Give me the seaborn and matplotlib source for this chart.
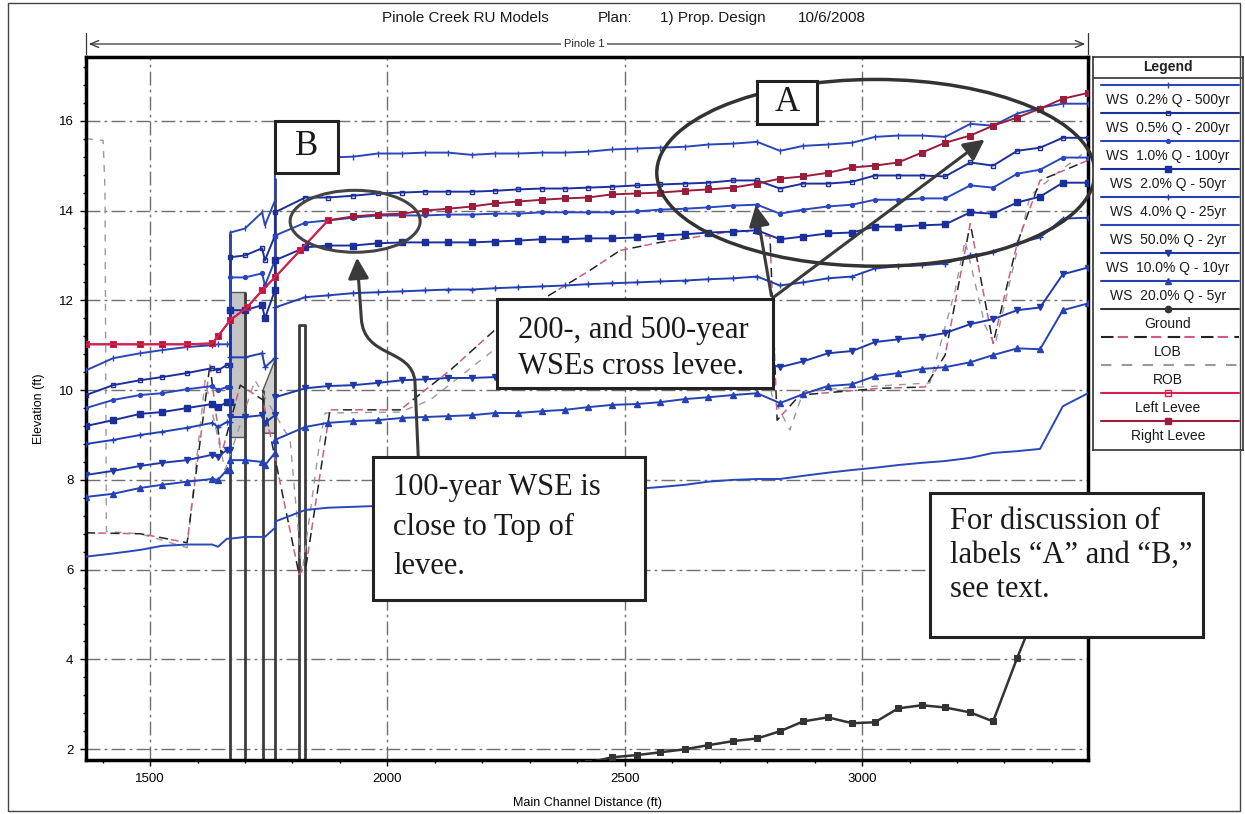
import pandas as pd
import matplotlib.pyplot as plt
from matplotlib.patches import Rectangle, Ellipse, FancyArrowPatch
from matplotlib.path import Path
from matplotlib.lines import Line2D
from matplotlib.ticker import MultipleLocator
import seaborn as sns

sns.set_theme(style="white")
plt.rcParams["font.family"] = ["Liberation Sans", "DejaVu Sans"]

# ---- data (main channel distance in ft, elevation in ft) ----
left_st = [1365, 1422, 1479, 1525, 1578, 1631, 1643, 1662]
bridge_st = [1669, 1669, 1700, 1736, 1742, 1763, 1763]
reach_st = [1827, 1875, 1928, 1980, 2031, 2079, 2128, 2178, 2227, 2275, 2326, 2374,
            2423, 2473, 2526, 2574, 2627, 2676, 2728, 2779, 2827, 2876, 2928, 2979,
            3027, 3076, 3126, 3175, 3228, 3276, 3327, 3375, 3423, 3476]
stations = left_st + bridge_st + reach_st

ws500 = [10.44, 10.71, 10.82, 10.89, 10.96, 11.0, 11.02, 11.02,
         11.02, 13.51, 13.6, 13.96, 13.67, 14.22, 15.11,
         15.16, 15.18, 15.2, 15.27, 15.27, 15.29, 15.29, 15.24, 15.27, 15.27, 15.29, 15.29,
         15.31, 15.36, 15.38, 15.4, 15.42, 15.47, 15.49, 15.53, 15.33, 15.44, 15.47, 15.51,
         15.64, 15.67, 15.67, 15.64, 15.93, 15.89, 16.16, 16.29, 16.38, 16.38]
ws200 = [9.89, 10.11, 10.22, 10.29, 10.38, 10.49, 10.44, 10.56,
         10.56, 12.96, 13.0, 13.16, 12.89, 13.44, 13.96,
         14.29, 14.29, 14.33, 14.38, 14.4, 14.42, 14.42, 14.42, 14.44, 14.47, 14.49, 14.49,
         14.51, 14.53, 14.56, 14.58, 14.6, 14.62, 14.67, 14.67, 14.49, 14.6, 14.6, 14.64,
         14.78, 14.78, 14.78, 14.76, 15.07, 15.0, 15.33, 15.4, 15.62, 15.62]
ws100 = [9.6, 9.78, 9.89, 9.93, 10.02, 10.09, 10.0, 10.07,
         10.07, 12.51, 12.51, 12.6, 12.33, 12.89, 13.44,
         13.73, 13.78, 13.84, 13.89, 13.89, 13.89, 13.91, 13.91, 13.93, 13.93, 13.96, 13.96,
         13.96, 13.96, 13.98, 14.02, 14.04, 14.07, 14.11, 14.13, 13.93, 14.02, 14.09, 14.13,
         14.24, 14.24, 14.27, 14.27, 14.56, 14.51, 14.82, 14.91, 15.18, 15.18]
ws50 = [9.2, 9.33, 9.47, 9.51, 9.6, 9.69, 9.62, 9.73,
        9.73, 11.78, 11.78, 11.89, 11.6, 12.22, 12.89,
        13.18, 13.22, 13.22, 13.27, 13.29, 13.29, 13.29, 13.29, 13.31, 13.33, 13.36, 13.36,
        13.38, 13.38, 13.4, 13.44, 13.47, 13.51, 13.53, 13.56, 13.36, 13.42, 13.49, 13.51,
        13.64, 13.64, 13.67, 13.69, 13.96, 13.93, 14.18, 14.31, 14.62, 14.62]
ws25 = [8.8, 8.89, 9.0, 9.07, 9.16, 9.27, 9.18, 9.29,
        9.29, 10.73, 10.73, 10.82, 10.51, 10.71, 11.84,
        12.07, 12.11, 12.16, 12.18, 12.2, 12.22, 12.24, 12.24, 12.27, 12.29, 12.31, 12.33,
        12.36, 12.38, 12.4, 12.42, 12.44, 12.47, 12.49, 12.53, 12.33, 12.4, 12.49, 12.53,
        12.71, 12.76, 12.78, 12.82, 13.0, 13.07, 13.27, 13.4, 13.82, 13.84]
ws10 = [8.11, 8.2, 8.31, 8.38, 8.44, 8.56, 8.51, 8.67,
        8.67, 9.4, 9.4, 9.44, 9.27, 9.44, 9.84,
        10.04, 10.09, 10.11, 10.16, 10.22, 10.24, 10.27, 10.27, 10.29, 10.31, 10.33, 10.36,
        10.38, 10.4, 10.42, 10.47, 10.51, 10.56, 10.62, 10.67, 10.51, 10.64, 10.82, 10.87,
        11.07, 11.13, 11.18, 11.27, 11.47, 11.58, 11.78, 11.84, 12.58, 12.73]
ws5 = [7.62, 7.69, 7.82, 7.89, 7.96, 8.02, 8.0, 8.22,
       8.22, 8.44, 8.44, 8.4, 8.33, 8.6, 8.89,
       9.18, 9.27, 9.31, 9.33, 9.38, 9.4, 9.42, 9.44, 9.49, 9.49, 9.53, 9.56,
       9.62, 9.67, 9.69, 9.73, 9.8, 9.84, 9.89, 9.93, 9.71, 9.91, 10.09, 10.13,
       10.31, 10.38, 10.47, 10.51, 10.62, 10.78, 10.93, 10.91, 11.78, 11.93]
ws2 = [6.29, 6.36, 6.44, 6.53, 6.56, 6.56, 6.51, 6.69,
       6.69, 6.69, 6.73, 6.73, 6.73, 6.93, 7.07,
       7.33, 7.38, 7.4, 7.42, 7.47, 7.51, 7.56, 7.6, 7.62, 7.67, 7.69, 7.71,
       7.73, 7.78, 7.8, 7.84, 7.89, 7.96, 8.0, 8.02, 8.02, 8.09, 8.16, 8.22,
       8.27, 8.33, 8.38, 8.42, 8.49, 8.6, 8.64, 8.69, 9.64, 9.93]

levee_st = [1365, 1422, 1479, 1525, 1578, 1631, 1643, 1669, 1704, 1736, 1763, 1816, 1875,
            1928, 1980, 2031, 2079, 2128, 2178, 2227, 2275, 2326, 2374, 2423, 2473, 2526,
            2574, 2627, 2676, 2728, 2779, 2827, 2876, 2928, 2979, 3027, 3076, 3126, 3175,
            3228, 3276, 3327, 3375, 3423, 3476]
right_levee = [11.02, 11.02, 11.02, 11.02, 11.02, 11.04, 11.2, 11.56, 11.84, 12.22, 12.51,
               13.11, 13.78, 13.87, 13.91, 13.93, 14.0, 14.04, 14.09, 14.16, 14.2, 14.24,
               14.27, 14.29, 14.36, 14.38, 14.4, 14.44, 14.47, 14.51, 14.6, 14.71, 14.76,
               14.84, 14.96, 15.0, 15.07, 15.29, 15.51, 15.67, 15.89, 16.07, 16.27, 16.49, 16.62]
left_levee_st = [1365, 1422, 1479, 1525, 1578, 1631, 1643, 1669, 1704, 1736, 1763, 1816, 1875]
left_levee = [11.02, 11.02, 11.02, 11.02, 11.02, 11.04, 11.2, 11.56, 11.84, 12.22, 12.51, 13.11, 13.78]

ground_st = [2423, 2473, 2526, 2574, 2627, 2676, 2728, 2779, 2827, 2876, 2928, 2979, 3027,
             3076, 3126, 3175, 3228, 3276, 3327, 3375, 3423, 3476]
ground = [1.7, 1.82, 1.87, 1.93, 2.0, 2.09, 2.18, 2.24, 2.4, 2.62, 2.71, 2.58, 2.6,
          2.91, 2.98, 2.93, 2.82, 2.62, 4.04, 5.3, 5.8, 6.0]

lob_st = [1365, 1479, 1525, 1578, 1626, 1650, 1690, 1738, 1814, 1829, 1879, 2027, 2132,
          2237, 2427, 2490, 2574, 2743, 2806, 2821, 2869, 3038, 3133, 3175, 3228, 3276,
          3327, 3375, 3474]
lob = [6.82, 6.8, 6.71, 6.6, 10.56, 8.56, 10.11, 9.78, 5.89, 6.11, 9.56, 9.56, 10.44,
       11.44, 12.67, 13.11, 13.29, 13.56, 13.42, 9.33, 9.89, 10.04, 10.07, 10.78, 13.71,
       11.04, 13.27, 14.67, 15.11]
rob_st = [1365, 1401, 1405, 1408, 1479, 1578, 1616, 1658, 1721, 1795, 1820, 1858, 1869,
          2027, 2090, 2237, 2364, 2532, 2659, 2785, 2810, 2848, 2876, 2954, 3143, 3196,
          3217, 3259, 3280, 3312, 3354, 3417, 3474]
rob = [15.6, 15.56, 14.5, 6.85, 6.8, 6.49, 10.22, 8.22, 10.22, 8.89, 5.93, 8.89, 9.49,
       9.51, 9.78, 11.0, 11.5, 11.6, 11.7, 11.4, 9.89, 9.11, 9.96, 10.04, 10.16, 12.22,
       13.33, 11.44, 11.0, 12.44, 14.33, 14.89, 15.33]

# bridge / culvert geometry
pier_x = [1669, 1700, 1738, 1763, 1814, 1826]
pier_top = [13.51, 12.18, 10.0, 14.73, 11.44, 11.44]
culvert_x = [1669, 1700]
culvert_low, culvert_high = 8.96, 12.18
pent_x = [1738, 1738, 1763, 1763]
pent_y = [9.04, 10.0, 10.67, 9.04]

# ---- figure ----
W, H = 1245, 814
fig = plt.figure(figsize=(W / 100, H / 100), dpi=100, facecolor="white")
ax = fig.add_axes([86 / W, 1 - 760 / H, 1002 / W, 703 / H])
ax.set_facecolor("white")

# bridge structure
ax.fill_between(culvert_x, culvert_low, culvert_high, color="#c4c4c4", ec="#555555", lw=1, zorder=2)
ax.fill(pent_x, pent_y, color="#cfcfcf", ec="#555555", lw=1, zorder=2)
ax.vlines(pier_x, 0, pier_top, color="#3c3c3c", lw=2, zorder=2)
ax.plot(pier_x[4:], pier_top[4:], color="#3c3c3c", lw=2, zorder=2)

# bank stations
sns.lineplot(x=rob_st, y=rob, ax=ax, sort=False, estimator=None, color="#9a9a9a",
             lw=1.0, linestyle=(0, (5, 5)), zorder=2)
sns.lineplot(x=lob_st, y=lob, ax=ax, sort=False, estimator=None, color="#222222",
             lw=1.1, linestyle=(0, (6, 10)), zorder=2)
sns.lineplot(x=lob_st, y=lob, ax=ax, sort=False, estimator=None, color="#cf5a86",
             lw=1.1, linestyle=(8, (5, 11)), zorder=2)

ws_specs = [
    ("WS  0.2% Q - 500yr", ws500, "#2a46b8", "|", "#2a46b8", 5),
    ("WS  0.5% Q - 200yr", ws200, "#1c2f9a", "s", "none", 3.5),
    ("WS  1.0% Q - 100yr", ws100, "#2b47c0", "o", "#2b47c0", 2.8),
    ("WS  2.0% Q - 50yr", ws50, "#1b2f9c", "s", "#1b2f9c", 4),
    ("WS  4.0% Q - 25yr", ws25, "#2340b0", "+", "#2340b0", 5),
    ("WS  50.0% Q - 2yr", ws2, "#2a48b8", "", "#2a48b8", 0),
    ("WS  10.0% Q - 10yr", ws10, "#1f3aa8", "v", "#1f3aa8", 4.5),
    ("WS  20.0% Q - 5yr", ws5, "#2542b4", "^", "#2542b4", 4.5),
]
for label, vals, col, mk, mfc, ms in ws_specs:
    df = pd.DataFrame({"Station": stations, "Elevation": vals})
    sns.lineplot(data=df, x="Station", y="Elevation", ax=ax, sort=False, estimator=None,
                 color=col, lw=1.4, marker=mk if mk else None, markersize=ms,
                 markerfacecolor=mfc, markeredgecolor=col, markeredgewidth=1.0, zorder=3)

sns.lineplot(x=ground_st, y=ground, ax=ax, sort=False, estimator=None, color="#333333",
             lw=1.8, marker="s", markersize=4.5, markeredgecolor="#333333", zorder=3)
sns.lineplot(x=levee_st, y=right_levee, ax=ax, sort=False, estimator=None, color="#9c1c3c",
             lw=1.4, marker="s", markersize=4, markeredgecolor="#9c1c3c", zorder=4)
sns.lineplot(x=left_levee_st, y=left_levee, ax=ax, sort=False, estimator=None, color="#d8204e",
             lw=1.4, marker="s", markersize=4, markerfacecolor="none",
             markeredgecolor="#d8204e", zorder=4)

# axes styling
ax.set_xlim(1365, 3476)
ax.set_ylim(1.76, 17.42)
ax.set_xticks([1500, 2000, 2500, 3000])
ax.set_yticks(range(2, 17, 2))
ax.xaxis.set_minor_locator(MultipleLocator(100))
ax.yaxis.set_minor_locator(MultipleLocator(0.4))
ax.grid(True, which="major", color="#707070", lw=1.0, linestyle=(0, (10, 3, 2, 3)), zorder=1)
ax.tick_params(which="both", bottom=True, left=True, direction="out", colors="black",
               labelsize=9.5, width=1)
ax.tick_params(which="major", length=4, pad=5)
ax.tick_params(which="minor", length=2.5)
for s in ax.spines.values():
    s.set_color("black")
    s.set_linewidth(2.5)
ax.set_xlabel("Main Channel Distance (ft)", fontsize=9, color="black")
ax.set_ylabel("Elevation (ft)", fontsize=9, color="black")
ax.xaxis.set_label_coords(0.5, -0.052)
ax.yaxis.set_label_coords(-0.041, 0.5)

# ---- annotations ----
box_kw = dict(fc="white", ec="#222222", lw=2.2, zorder=10, clip_on=False)
serif = ["Liberation Serif", "DejaVu Serif"]
txt_kw = dict(family=serif, fontsize=22, color="#1a1a1a", zorder=11, clip_on=False)

ax.add_patch(Ellipse((3029, 14.84), 923, 4.16, fill=False, ec="#333333", lw=2.5, zorder=9, clip_on=False))
ax.add_patch(Ellipse((1932, 13.76), 274, 1.38, fill=False, ec="#444444", lw=2.2, zorder=9, clip_on=False))

ax.add_patch(Rectangle((2779, 15.93), 126, 0.96, **box_kw))
ax.text(2842, 16.41, "A", ha="center", va="center", **dict(txt_kw, fontsize=25))
ax.add_patch(Rectangle((1763, 14.84), 133, 1.16, **box_kw))
ax.text(1829, 15.42, "B", ha="center", va="center", **dict(txt_kw, fontsize=25))

arrow_kw = dict(arrowstyle="-|>,head_length=0.9,head_width=0.45", color="#3a3a3a", lw=2.2,
                mutation_scale=14, zorder=10)
ax.add_patch(FancyArrowPatch((2810, 12.04), (3263, 15.62), **arrow_kw))
ax.add_patch(FancyArrowPatch((2810, 12.04), (2775, 14.18), **arrow_kw))

ax.add_patch(Rectangle((2231, 10.04), 581, 2.0, **box_kw))
ax.text(2275, 11.33, "200-, and 500-year", ha="left", va="center", **txt_kw)
ax.text(2275, 10.53, "WSEs cross levee.", ha="left", va="center", **txt_kw)

curve = Path([(2065, 8.51), (2058, 10.2), (2050, 10.95), (1950, 10.7), (1945, 11.6), (1936, 12.95)],
             [Path.MOVETO, Path.LINETO, Path.CURVE4, Path.CURVE4, Path.CURVE4, Path.LINETO])
ax.add_patch(FancyArrowPatch(path=curve, **arrow_kw))

ax.add_patch(Rectangle((1970, 5.33), 573, 3.18, **box_kw))
ax.text(2012, 7.84, "100-year WSE is", ha="left", va="center", **txt_kw)
ax.text(2012, 6.93, "close to Top of", ha="left", va="center", **txt_kw)
ax.text(2012, 6.07, "levee.", ha="left", va="center", **txt_kw)

ax.add_patch(Rectangle((3143, 4.51), 575, 3.2, **box_kw))
ax.text(3185, 7.07, "For discussion of", ha="left", va="center", **txt_kw)
ax.text(3185, 6.31, "labels \u201cA\u201d and \u201cB,\u201d", ha="left", va="center", **txt_kw)
ax.text(3185, 5.56, "see text.", ha="left", va="center", **txt_kw)

# ---- title and reach marker ----
for xp, t in [(382, "Pinole Creek RU Models"), (598, "Plan:"), (660, "1) Prop. Design"), (798, "10/6/2008")]:
    fig.text(xp / W, 1 - 18 / H, t, ha="left", va="center", fontsize=11, color="#1a1a1a")
fig.add_artist(FancyArrowPatch((86 / W, 1 - 44 / H), (1088 / W, 1 - 44 / H), transform=fig.transFigure,
                               arrowstyle="<->,head_length=0.6,head_width=0.25", mutation_scale=10,
                               lw=0.9, color="#333333"))
for xp in (86, 1088):
    fig.add_artist(Line2D([xp / W, xp / W], [1 - 33 / H, 1 - 54 / H], transform=fig.transFigure,
                          color="#333333", lw=0.9))
fig.text(584 / W, 1 - 44 / H, "Pinole 1", ha="center", va="center", fontsize=8, color="#222222",
         bbox=dict(fc="white", ec="none", pad=2))
fig.add_artist(Rectangle((8 / W, 3 / H), 1232 / W, 808 / H, transform=fig.transFigure,
                         fill=False, ec="#444444", lw=1))

# ---- legend panel ----
lax = fig.add_axes([1093 / W, 1 - 450 / H, 150 / W, 393 / H])
lax.set_xlim(0, 150)
lax.set_ylim(450, 57)
lax.set_xticks([])
lax.set_yticks([])
for s in lax.spines.values():
    s.set_color("#333333")
    s.set_linewidth(1.2)
lax.axhline(78, color="#333333", lw=1.2)
lax.text(75, 67.5, "Legend", ha="center", va="center", fontsize=10, fontweight="bold", color="#222222")

legend_items = [(lbl, col, mk, mfc, ms, "-") for lbl, _, col, mk, mfc, ms in ws_specs]
legend_items += [
    ("Ground", "#333333", "o", "#333333", 4.5, "-"),
    ("LOB", "#222222", "", "none", 0, (0, (6, 10))),
    ("ROB", "#9a9a9a", "", "none", 0, (0, (5, 5))),
    ("Left Levee", "#d8204e", "s", "none", 4, "-"),
    ("Right Levee", "#9c1c3c", "s", "#9c1c3c", 4, "-"),
]
for i, (lbl, col, mk, mfc, ms, ls) in enumerate(legend_items):
    yl = 85 + i * 28
    lax.plot([8, 146], [yl, yl], color=col, lw=1.5, linestyle=ls)
    if lbl == "LOB":
        lax.plot([8, 146], [yl, yl], color="#cf5a86", lw=1.5, linestyle=(8, (5, 11)))
    if mk:
        lax.plot([75], [yl], marker=mk, markersize=ms, color=col, markerfacecolor=mfc,
                 markeredgecolor=col, markeredgewidth=1.0)
    lax.text(75, yl + 15, lbl, ha="center", va="center", fontsize=10, color="#1a1a1a")

fig.savefig("out.png", dpi=100)
